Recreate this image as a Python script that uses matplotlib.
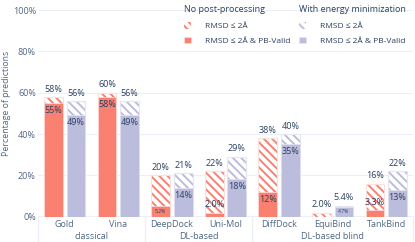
import matplotlib
matplotlib.use("Agg")
import matplotlib.pyplot as plt
from matplotlib.patches import Patch
import numpy as np

models = ["Gold", "Vina", "DeepDock", "Uni-Mol", "DiffDock", "EquiBind", "TankBind"]
groups = ["classical", "DL-based", "DL-based blind"]
group_members = [[0, 1], [2, 3], [4, 5, 6]]

raw_rmsd = [58, 60, 20, 22, 38, 2.0, 16]
raw_pb = [55, 58, 5.2, 2.0, 12, 0.0, 3.3]
min_rmsd = [56, 56, 21, 29, 40, 5.4, 22]
min_pb = [49, 49, 14, 18, 35, 4.7, 13]

yticks = [0, 20, 40, 60, 80, 100]

RED = "#fa8072"
PURPLE = "#bcbddc"
RED_EDGE = "#fde0dc"
PURPLE_EDGE = "#e6e5f1"
TXT = "#2a3f5f"
TICK = "#506784"
GRID = "#ebf0f8"
HATCH = "\\\\\\\\"

plt.rcParams["font.family"] = ["Open Sans", "DejaVu Sans"]
plt.rcParams["hatch.linewidth"] = 1.4

W, H = 415, 242
fig = plt.figure(figsize=(W / 100, H / 100), dpi=100)
ax = fig.add_axes([38 / W, (H - 216.7) / H, (413 - 38) / W, (216.7 - 10) / H])

x = np.arange(len(models))
off = 0.21
bw = 0.35
FS = 6.5

for i, yv in enumerate(yticks):
    ax.axhline(yv, color=GRID, lw=1.6 if yv == 0 else 0.8, zorder=0)

def fmt(v):
    return f"{v:.1f}%" if v < 10 else f"{v:.0f}%"

def draw(xs, total, solid, color, edge):
    ax.bar(xs, total, width=bw, facecolor="white", edgecolor=color, hatch=HATCH, lw=0, zorder=2)
    ax.bar(xs, total, width=bw, fill=False, edgecolor=edge, lw=0.8, zorder=3)
    ax.bar(xs, solid, width=bw, facecolor=color, edgecolor=edge, lw=0.5, zorder=4)
    for xi, t, s in zip(xs, total, solid):
        ax.annotate(fmt(t), (xi, t), xytext=(0, 5.6), textcoords="offset points",
                    ha="center", va="center", fontsize=FS, color=TXT, zorder=6)
        if s <= 0:
            continue
        if s >= 10:
            ax.annotate(fmt(s), (xi, s), xytext=(0, -5.4), textcoords="offset points",
                        ha="center", va="center", fontsize=FS, color=TXT, zorder=6)
        elif s >= 4.5:
            ax.text(xi, s / 2, fmt(s), ha="center", va="center", fontsize=3.6, color=TXT, zorder=6)
        else:
            ax.annotate(fmt(s), (xi, s), xytext=(0, 5.6), textcoords="offset points",
                        ha="center", va="center", fontsize=FS, color=TXT, zorder=6)

draw(x - off, raw_rmsd, raw_pb, RED, RED_EDGE)
draw(x + off, min_rmsd, min_pb, PURPLE, PURPLE_EDGE)

ax.set_xlim(-0.5, len(models) - 0.5)
ax.set_ylim(0, 100)
ax.set_yticks(yticks)
ax.set_yticklabels([f"{v}%" for v in yticks])
ax.set_xticks(x)
ax.set_xticklabels(models)
ax.tick_params(axis="both", length=0, labelsize=FS, labelcolor=TICK)
ax.tick_params(axis="x", pad=2.5)
ax.tick_params(axis="y", pad=1.5)
for s in ax.spines.values():
    s.set_visible(False)

ax.set_ylabel("Percentage of predictions", fontsize=6.3, color=TICK)
ax.yaxis.label.set_va("center")
ax.yaxis.set_label_coords(-0.083, 0.55)

# multicategory group labels and dividers
trans = ax.get_xaxis_transform()
bounds = [-0.5]
for g, mem in zip(groups, group_members):
    c = (mem[0] + mem[-1]) / 2
    ax.text(c, -0.095, g, transform=trans, ha="center", va="center", fontsize=FS, color=TICK)
    bounds.append(mem[-1] + 0.5)
for b in bounds:
    ax.plot([b, b], [0, -0.13], transform=trans, color=GRID, lw=1, clip_on=False)

# legends
h1 = [Patch(facecolor="white", edgecolor=RED, hatch=HATCH, lw=0),
      Patch(facecolor=RED, edgecolor=RED_EDGE, lw=0.5)]
h2 = [Patch(facecolor="white", edgecolor=PURPLE, hatch=HATCH, lw=0),
      Patch(facecolor=PURPLE, edgecolor=PURPLE_EDGE, lw=0.5)]
labels = ["RMSD ≤ 2Å", "RMSD ≤ 2Å & PB-Valid"]
common = dict(loc="upper left", frameon=False, fontsize=6.0, title_fontsize=6.5,
              handlelength=0.8, handleheight=0.8, handletextpad=1.7,
              labelspacing=0.75, borderpad=0, borderaxespad=0, alignment="left",
              labelcolor=TXT)
l1 = fig.legend(h1, labels, title="No post-processing",
                bbox_to_anchor=(184 / W, 1 - 5 / H), **common)
l2 = fig.legend(h2, labels, title="With energy minimization",
                bbox_to_anchor=(299 / W, 1 - 5 / H), **common)
for l in (l1, l2):
    l.get_title().set_color(TXT)
    l._legend_box.sep = 6

fig.savefig("out.png", dpi=100, facecolor="white")
